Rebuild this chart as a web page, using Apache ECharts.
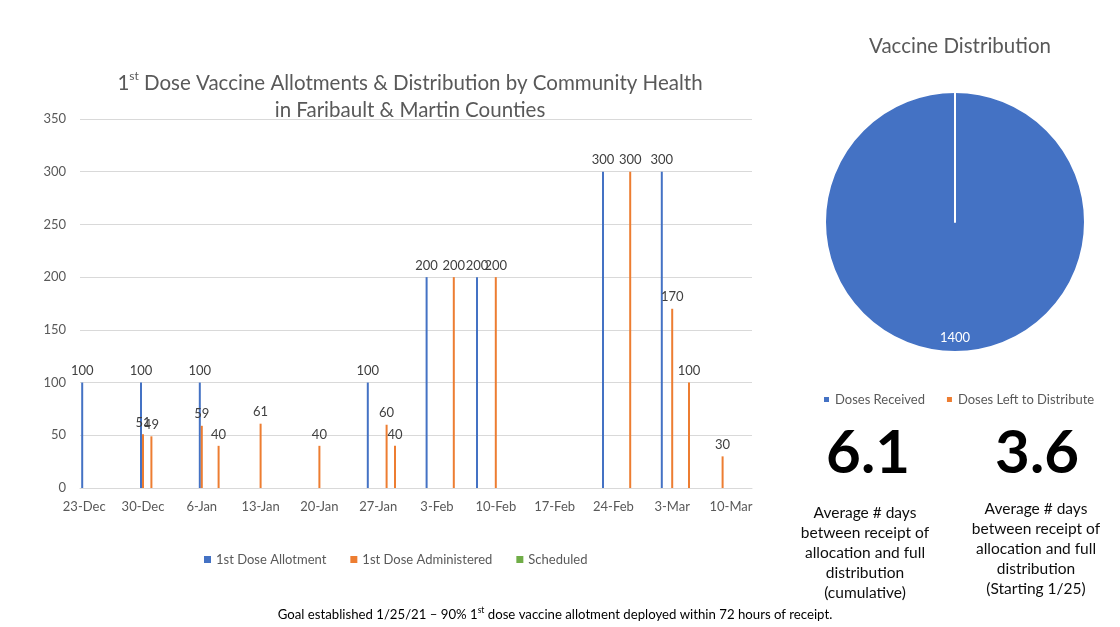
<!DOCTYPE html>
<html>
<head>
<meta charset="utf-8">
<script src="https://cdn.jsdelivr.net/npm/echarts@6/dist/echarts.min.js"></script>
<style>
  html, body { margin: 0; padding: 0; background: #fff; }
  #chart { width: 1120px; height: 627px; }
</style>
</head>
<body>
<div id="chart"></div>
<script>
// weekly axis labels
const tickDates = ["2020-12-23", "2020-12-30", "2021-01-06", "2021-01-13", "2021-01-20", "2021-01-27",
  "2021-02-03", "2021-02-10", "2021-02-17", "2021-02-24", "2021-03-03", "2021-03-10"];

const allotmentDates = ["2020-12-23", "2020-12-30", "2021-01-06", "2021-01-26", "2021-02-02", "2021-02-08", "2021-02-23", "2021-03-02"];
const allotmentValues = [100, 100, 100, 100, 200, 200, 300, 300];

const administeredDates = ["2020-12-30", "2020-12-31", "2021-01-06", "2021-01-08", "2021-01-13", "2021-01-20", "2021-01-28",
  "2021-01-29", "2021-02-05", "2021-02-10", "2021-02-26", "2021-03-03", "2021-03-05", "2021-03-09"];
const administeredValues = [51, 49, 59, 40, 61, 40, 60, 40, 200, 200, 300, 170, 100, 30];

const scheduledDates = [];
const scheduledValues = [];

const pieNames = ["Doses Received", "Doses Left to Distribute"];
const pieValues = [1400, 0];

const avgCumulative = "6.1";
const avgSince = "3.6";

const MONTHS = ["Jan", "Feb", "Mar", "Apr", "May", "Jun", "Jul", "Aug", "Sep", "Oct", "Nov", "Dec"];
const DAY = 24 * 3600 * 1000;
const FONT = "Lato";

function toTime(s) {
  const [y, m, d] = s.split("-").map(Number);
  return new Date(y, m - 1, d).getTime();
}
function pairs(dates, values) {
  return dates.map((d, i) => [toTime(d), values[i]]);
}

const chart = echarts.init(document.getElementById("chart"));

const barLabel = {
  show: true,
  position: "top",
  distance: 5,
  color: "#404040",
  fontSize: 13,
  fontFamily: FONT
};

chart.setOption({
  animation: false,
  textStyle: { fontFamily: FONT },
  title: [
    {
      text: "1{sup|st} Dose Vaccine Allotments & Distribution by Community Health\nin Faribault & Martin Counties",
      left: 405,
      top: 65,
      textAlign: "center",
      textStyle: {
        color: "#595959",
        fontSize: 20.5,
        fontWeight: "normal",
        lineHeight: 27,
        fontFamily: FONT,
        rich: {
          sup: { fontSize: 12, color: "#595959", verticalAlign: "top", lineHeight: 13, fontFamily: FONT }
        }
      }
    },
    {
      text: "Vaccine Distribution",
      left: 955,
      top: 29,
      textAlign: "center",
      textStyle: { color: "#595959", fontSize: 20.5, fontWeight: "normal", lineHeight: 24, fontFamily: FONT }
    },
    {
      text: avgCumulative,
      left: 863,
      top: 419,
      textAlign: "center",
      textStyle: { color: "#000", fontSize: 60, fontWeight: "bold", lineHeight: 60, fontFamily: FONT }
    },
    {
      text: avgSince,
      left: 1032,
      top: 419,
      textAlign: "center",
      textStyle: { color: "#000", fontSize: 60, fontWeight: "bold", lineHeight: 60, fontFamily: FONT }
    },
    {
      text: "Average # days\nbetween receipt of\nallocation and full\ndistribution\n(cumulative)",
      left: 860,
      top: 498,
      textAlign: "center",
      textStyle: { color: "#0d0d0d", fontSize: 15.5, fontWeight: "normal", lineHeight: 20, fontFamily: FONT }
    },
    {
      text: "Average # days\nbetween receipt of\nallocation and full\ndistribution\n(Starting 1/25)",
      left: 1031,
      top: 494,
      textAlign: "center",
      textStyle: { color: "#0d0d0d", fontSize: 15.5, fontWeight: "normal", lineHeight: 20, fontFamily: FONT }
    },
    {
      text: "Goal established 1/25/21 \u2013 90% 1{sup|st} dose vaccine allotment deployed within 72 hours of receipt.",
      left: 550,
      top: 601,
      textAlign: "center",
      textStyle: {
        color: "#000",
        fontSize: 13.2,
        fontWeight: "normal",
        lineHeight: 18,
        fontFamily: FONT,
        rich: {
          sup: { fontSize: 8.5, color: "#000", verticalAlign: "top", lineHeight: 10, fontFamily: FONT }
        }
      }
    }
  ],
  legend: [
    {
      data: ["1st Dose Allotment", "1st Dose Administered", "Scheduled"],
      left: 199,
      top: 548,
      icon: "rect",
      itemWidth: 7,
      itemHeight: 7,
      itemGap: 24,
      textStyle: { color: "#595959", fontSize: 13, fontFamily: FONT }
    },
    {
      data: pieNames,
      left: 817,
      top: 388,
      icon: "rect",
      itemWidth: 7,
      itemHeight: 7,
      itemGap: 20,
      textStyle: { color: "#595959", fontSize: 13, fontFamily: FONT }
    }
  ],
  grid: {
    left: 80,
    right: 368,
    top: 119,
    bottom: 139
  },
  xAxis: {
    type: "value",
    min: toTime(tickDates[0]) - DAY / 2,
    max: toTime("2021-03-12") + DAY / 2,
    axisLine: { show: true, lineStyle: { color: "#d9d9d9" } },
    axisTick: { show: false },
    splitLine: { show: false },
    axisLabel: {
      customValues: tickDates.map(toTime),
      color: "#595959",
      fontSize: 13,
      margin: 12,
      formatter: (v) => {
        const d = new Date(v);
        return d.getDate() + "-" + MONTHS[d.getMonth()];
      }
    }
  },
  yAxis: {
    type: "value",
    min: 0,
    max: 350,
    interval: 50,
    axisLine: { show: false },
    axisTick: { show: false },
    splitLine: { lineStyle: { color: "#d9d9d9" } },
    axisLabel: { color: "#595959", fontSize: 13, margin: 14 }
  },
  series: [
    {
      name: "1st Dose Allotment",
      type: "bar",
      data: pairs(allotmentDates, allotmentValues),
      barWidth: 2,
      barGap: "0%",
      itemStyle: { color: "#4472C4" },
      label: barLabel
    },
    {
      name: "1st Dose Administered",
      type: "bar",
      data: pairs(administeredDates, administeredValues),
      barWidth: 2,
      barGap: "0%",
      itemStyle: { color: "#ED7D31" },
      label: barLabel
    },
    {
      name: "Scheduled",
      type: "bar",
      data: pairs(scheduledDates, scheduledValues),
      barWidth: 2,
      barGap: "0%",
      itemStyle: { color: "#70AD47" },
      label: barLabel
    },
    {
      name: "Vaccine Distribution",
      type: "pie",
      center: [955, 222],
      radius: 130,
      startAngle: 90,
      clockwise: true,
      itemStyle: { borderColor: "#fff", borderWidth: 2 },
      labelLine: { show: false },
      emphasis: { disabled: true },
      data: [
        {
          name: pieNames[0],
          value: pieValues[0],
          itemStyle: { color: "#4472C4" },
          label: {
            show: true,
            position: "inside",
            // push the value down towards the rim, as in the source
            formatter: "\n\n\n\n\n\n{c}",
            lineHeight: 16,
            color: "#fff",
            fontSize: 13,
            fontFamily: FONT
          }
        },
        {
          name: pieNames[1],
          value: pieValues[1],
          itemStyle: { color: "#ED7D31" },
          label: { show: false }
        }
      ]
    }
  ]
});
</script>
</body>
</html>
